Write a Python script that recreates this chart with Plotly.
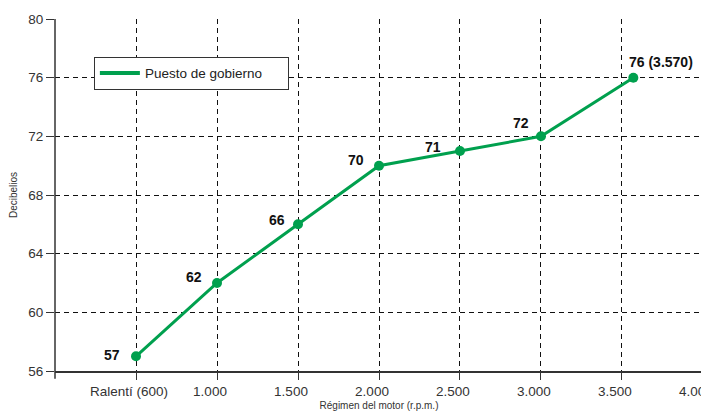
import plotly.graph_objects as go

# Data
rpm = [600, 1000, 1500, 2000, 2500, 3000, 3570]
db = [57, 62, 66, 70, 71, 72, 76]
point_labels = ["57", "62", "66", "70", "71", "72", "76 (3.570)"]
tick_rpm = [600, 1000, 1500, 2000, 2500, 3000, 3500, 4000]
tick_text = ["Ralentí (600)", "1.000", "1.500", "2.000", "2.500", "3.000", "3.500", "4.000"]
y_ticks = [56, 60, 64, 68, 72, 76, 80]
series_name = "Puesto de gobierno"

# Label offsets (px) relative to each point
label_dx = [-24, -23, -21, -23, -27, -20, 28]
label_dy = [1, 6, 4, 6, 4, 13, 16]


def rpm_to_pos(v):
    # the axis places ralentí (600) one step before 1.000, then 500 rpm per step
    if v <= 1000:
        return (v - 600) / 400.0
    return 1 + (v - 1000) / 500.0


xpos = [rpm_to_pos(v) for v in rpm]
tick_pos = [rpm_to_pos(v) for v in tick_rpm]

GREEN = "#00a04e"
FONT = "Liberation Sans"

fig = go.Figure()
fig.add_trace(go.Scatter(
    x=xpos, y=db, mode="lines+markers",
    line=dict(color=GREEN, width=3),
    marker=dict(color=GREEN, size=10),
    showlegend=False, hoverinfo="skip",
))
# legend entry (line only)
fig.add_trace(go.Scatter(
    x=[None], y=[None], mode="lines", name=series_name,
    line=dict(color=GREEN, width=4), showlegend=True,
))

for x, y, t, dx, dy in zip(xpos, db, point_labels, label_dx, label_dy):
    fig.add_annotation(x=x, y=y, text="<b>%s</b>" % t, showarrow=False,
                       xshift=dx, yshift=dy,
                       font=dict(family=FONT, size=14, color="#111111"))

# y axis line extending slightly below the x axis
fig.add_shape(type="line", xref="paper", yref="paper", x0=0, x1=0, y0=-0.022, y1=1,
              line=dict(color="#333333", width=1.5))

# page body has an 8px margin, so the figure is sized to fill the rest of the window
fig.update_layout(
    width=701, height=405,
    margin=dict(l=47, r=6, t=11, b=42, autoexpand=False),
    paper_bgcolor="white", plot_bgcolor="white",
    font=dict(family=FONT, size=13, color="#333333"),
    legend=dict(x=0.06, y=0.893, xanchor="left", yanchor="top",
                bgcolor="white", bordercolor="#333333", borderwidth=1,
                font=dict(family=FONT, size=13.5, color="#222222"),
                itemwidth=40, orientation="h", entrywidth=138,
                ),
    xaxis=dict(
        range=[-1, 7.0001], tickmode="array", tickvals=tick_pos, ticktext=tick_text,
        showgrid=True, gridcolor="#111111", gridwidth=1, griddash="5px,4px",
        showline=True, linecolor="#333333", linewidth=1.5,
        ticks="outside", ticklen=7, tickcolor="#333333", tickwidth=1,
        zeroline=False, automargin=False, ticklabeloverflow="allow",
        ticklabelshift=-7,
        title=dict(text="Régimen del motor (r.p.m.)", font=dict(size=10, color="#333333"), standoff=4),
        tickfont=dict(size=13.5, color="#333333"),
    ),
    yaxis=dict(
        range=[56, 80], tickmode="array", tickvals=y_ticks,
        showgrid=True, gridcolor="#111111", gridwidth=1, griddash="5px,4px",
        showline=False,
        ticks="outside", ticklen=8, tickcolor="#333333", tickwidth=1,
        zeroline=False, automargin=False, ticklabeloverflow="allow",
        title=dict(text="Decibelios", font=dict(size=10, color="#333333"), standoff=10),
        tickfont=dict(size=13.5, color="#333333"),
    ),
)

fig.write_html("out.html")
